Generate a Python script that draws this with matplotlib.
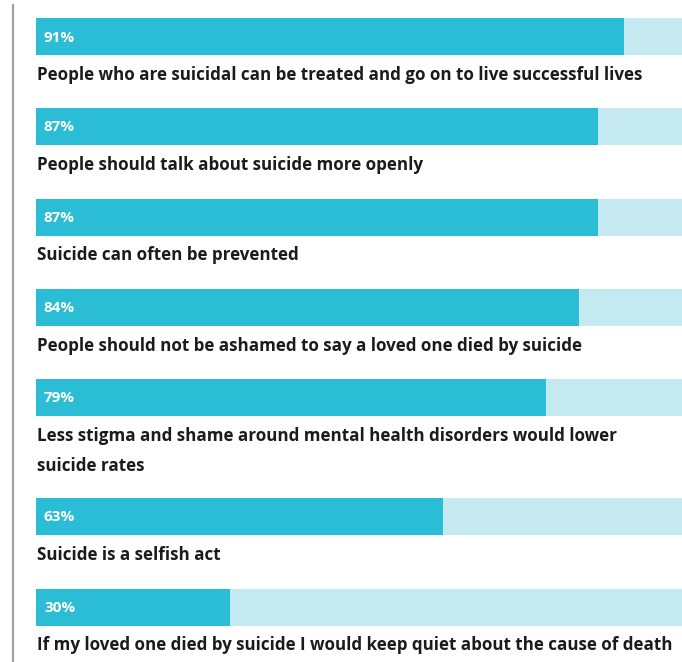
import matplotlib
matplotlib.use("Agg")
import matplotlib.pyplot as plt
from matplotlib import font_manager
from matplotlib.lines import Line2D
import matplotlib.transforms as mtransforms

statements = [
    "People who are suicidal can be treated and go on to live successful lives",
    "People should talk about suicide more openly",
    "Suicide can often be prevented",
    "People should not be ashamed to say a loved one died by suicide",
    "Less stigma and shame around mental health disorders would lower\nsuicide rates",
    "Suicide is a selfish act",
    "If my loved one died by suicide I would keep quiet about the cause of death",
]
values = [91, 87, 87, 84, 79, 63, 30]
value_labels = ["91%", "87%", "87%", "84%", "79%", "63%", "30%"]

# layout (pixel positions of bar centres)
bar_centres = [36.5, 126, 217, 307.5, 397.5, 516, 607]
bar_h = 37

W, H = 682, 662
avail = {f.name for f in font_manager.fontManager.ttflist}
family = "DejaVu Sans"
for cand in ["Liberation Sans Narrow", "DejaVu Sans Condensed", "Open Sans", "Lato"]:
    if cand in avail:
        family = cand
        break

fig = plt.figure(figsize=(W / 100, H / 100), dpi=100)
fig.patch.set_facecolor("white")
left = 36 / W
ax = fig.add_axes([left, 0, 1 - left, 1])
ax.set_xlim(0, 100)
ax.set_ylim(H, 0)
ax.axis("off")

dark = "#2bbcd6"
light = "#c4e9f1"
ax.barh(bar_centres, [100] * len(values), height=bar_h, color=light, linewidth=0)
ax.barh(bar_centres, values, height=bar_h, color=dark, linewidth=0)

fig.add_artist(Line2D([13 / W, 13 / W], [0.0, 0.992], color="#a0a0a0", lw=1.6))

renderer = fig.canvas.get_renderer()
# fit font size so the last statement spans ~642 px
t = ax.text(0, 0, statements[-1], fontsize=10, fontweight="bold", family=family)
w = t.get_window_extent(renderer).width
t.remove()
fs = 10 * 640 / w

off_pct = mtransforms.offset_copy(ax.transData, fig=fig, x=8 * 72 / 100, y=0, units="points")
for yc, lab, st in zip(bar_centres, value_labels, statements):
    ax.text(0, yc + 1, lab, transform=off_pct, color="white", fontsize=11,
            fontweight="bold", family=family, va="center", ha="left")
    ax.text(0.15, yc + bar_h / 2 + 11, st, fontsize=fs, fontweight="bold", family=family,
            color="#1b1b1b", va="top", ha="left", linespacing=1.85)

fig.savefig("out.png", dpi=100, facecolor="white")
